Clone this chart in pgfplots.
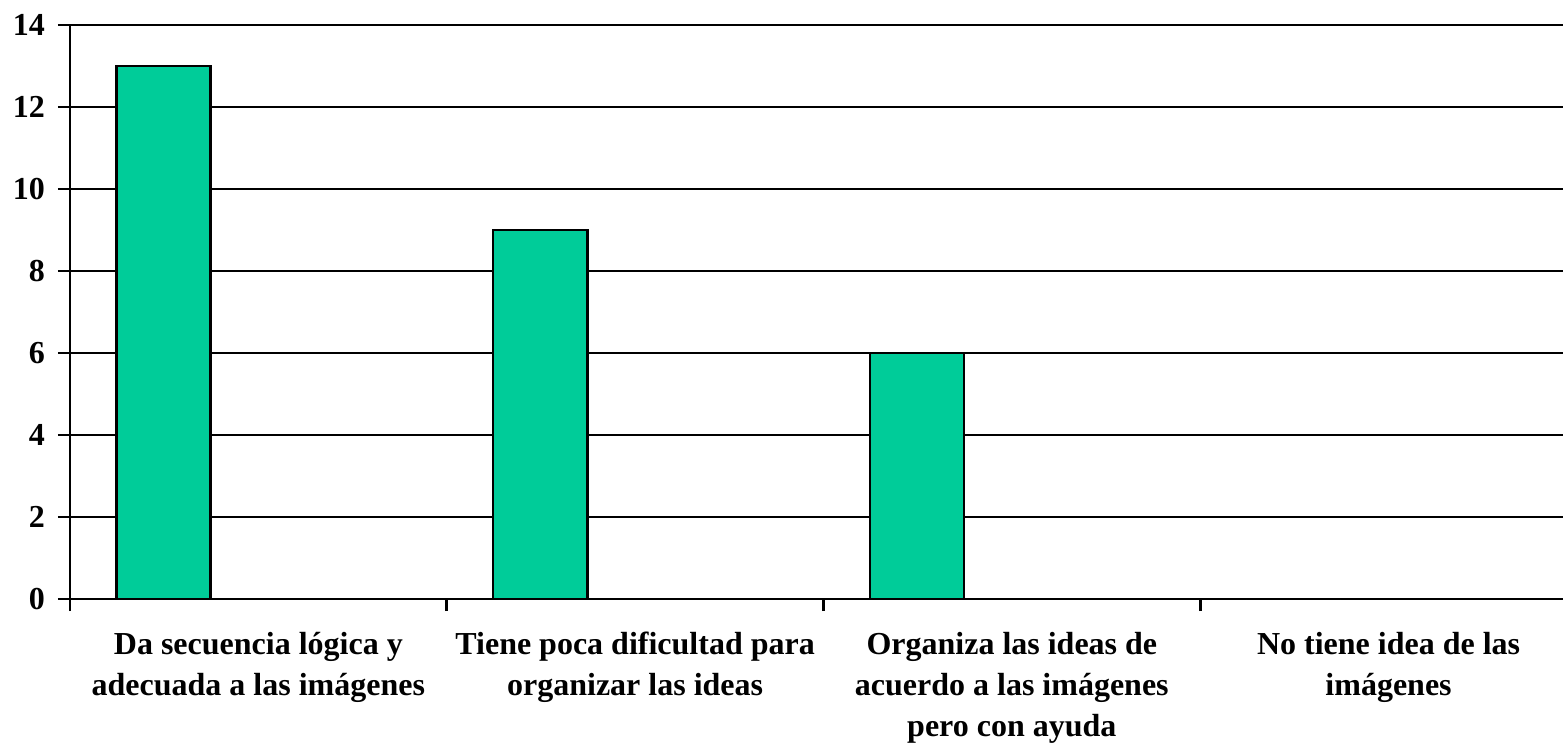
\documentclass[border=0pt]{standalone}
\usepackage{pgfplots}
\pgfplotsset{compat=1.18}
\usepackage{fontspec}
\setmainfont{Liberation Serif}
\definecolor{barg}{HTML}{00CC99}
\begin{document}
\begin{tikzpicture}
\begin{axis}[
  name=ax,
  scale only axis,
  width=746.5pt, height=287pt,
  xmin=0, xmax=3.963,
  ymin=0, ymax=14,
  ytick={0,2,...,14},
  axis x line*=bottom, axis y line*=left,
  axis line style={-, line width=1.3pt, black},
  ymajorgrids, grid style={line width=1.3pt, black},
  xtick={0,1,2,3},
  xticklabels={},
  extra x ticks={0.5,1.5,2.5,3.5},
  extra x tick labels={{Da secuencia lógica y\\adecuada a las imágenes},
               {Tiene poca dificultad para\\organizar las ideas},
               {Organiza las ideas de\\acuerdo a las imágenes\\pero con ayuda},
               {No tiene idea de las\\imágenes}},
  extra x tick style={grid=none, major tick length=0pt},
  x tick style={line width=1.3pt, black},
  y tick style={line width=1.3pt, black},
  major tick length=6pt,
  tick align=outside,
  xticklabel style={font=\bfseries\fontsize{16}{20.6}\selectfont, align=center, yshift=-13pt},
  yticklabel style={font=\bfseries\fontsize{16}{17}\selectfont, xshift=-3pt},
  /pgf/number format/assume math mode=true,
  clip=false,
]
\addplot[ybar, bar width=0.25, fill=barg, draw=black, line width=1.3pt, bar shift=0pt]
  coordinates {(0.248,13) (1.248,9) (2.248,6) (3.248,0)};
\end{axis}
\pgfresetboundingbox
\path (ax.south west) ++(-35pt,-72.5pt) coordinate (bl);
\path (ax.north east) ++(0pt,12.5pt) coordinate (tr);
\path[use as bounding box] (bl) rectangle (tr);
\end{tikzpicture}
\end{document}
